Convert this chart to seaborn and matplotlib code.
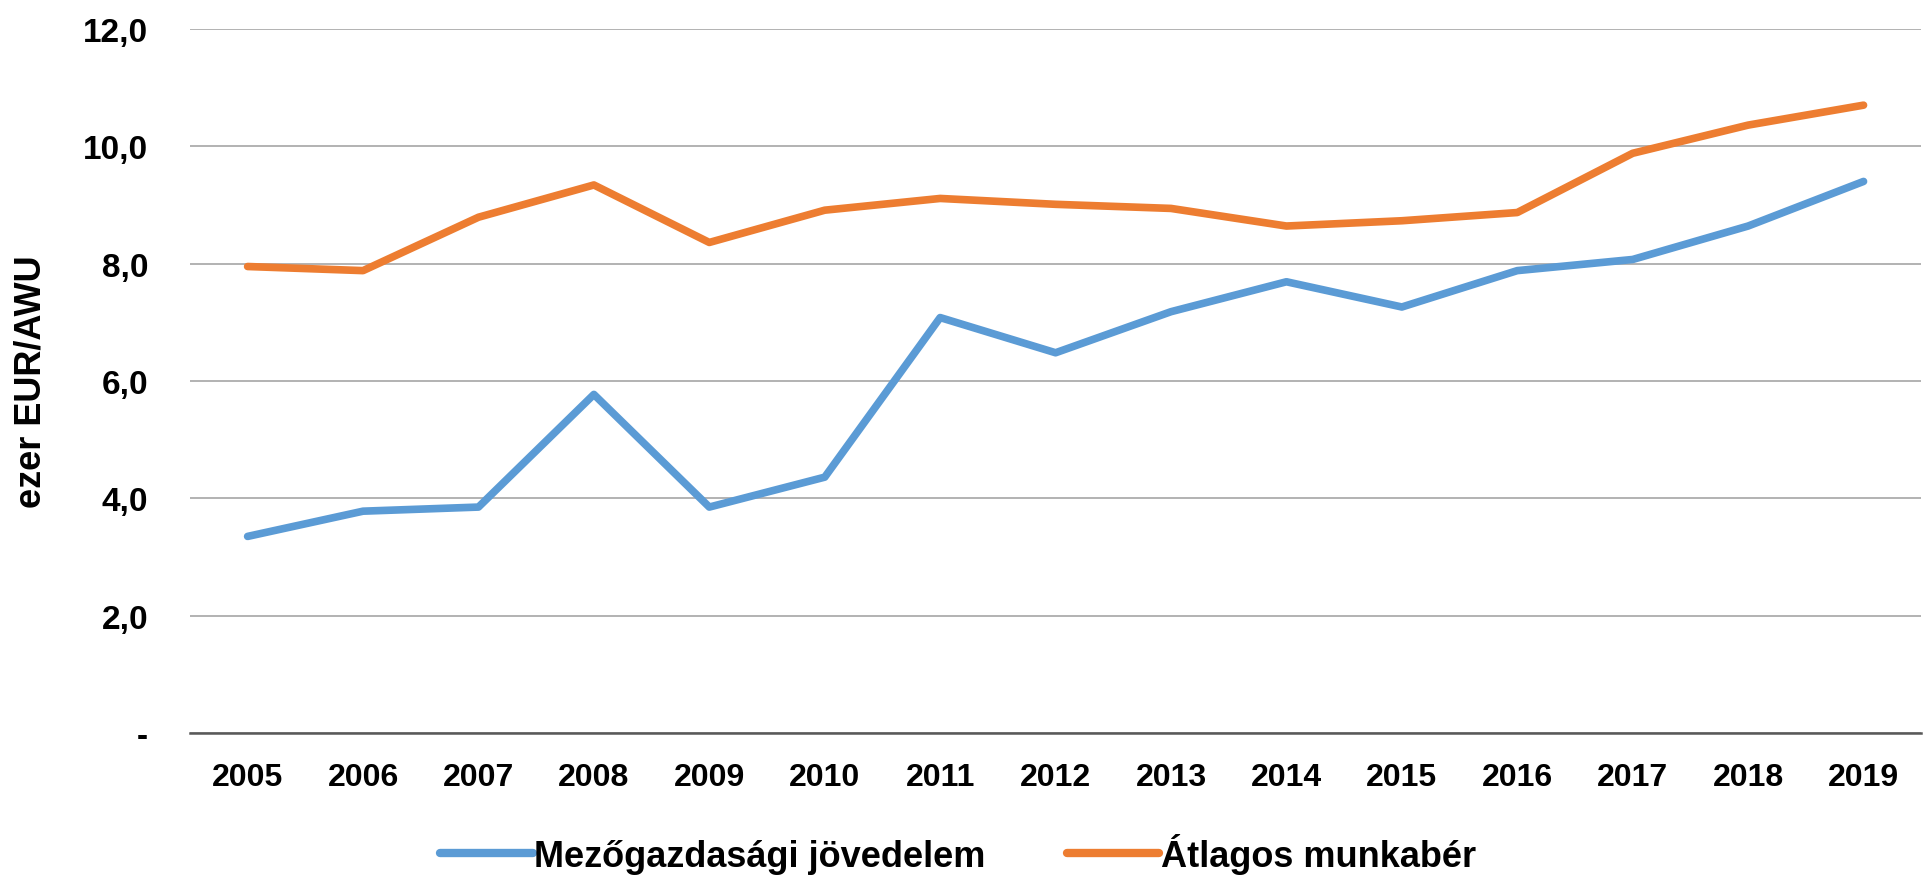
import numpy as np
import pandas as pd
import seaborn as sns
from matplotlib import pyplot as plt
from matplotlib.ticker import FixedLocator, FuncFormatter

years = list(range(2005, 2020))
mezogazdasagi = [3.35, 3.78, 3.85, 5.77, 3.85, 4.36, 7.08, 6.48, 7.18, 7.69, 7.26, 7.88, 8.07, 8.64, 9.40]
atlagos = [7.95, 7.88, 8.79, 9.34, 8.36, 8.91, 9.11, 9.01, 8.94, 8.64, 8.73, 8.87, 9.88, 10.36, 10.70]
series_names = ['Mezőgazdasági jövedelem', 'Átlagos munkabér']
y_ticks = [0, 2, 4, 6, 8, 10, 12]

df = pd.DataFrame({
    'ev': years * 2,
    'ertek': mezogazdasagi + atlagos,
    'sorozat': [series_names[0]] * len(years) + [series_names[1]] * len(years),
})

sns.set_style('white')
plt.rcParams['font.family'] = ['Liberation Sans', 'DejaVu Sans']
plt.rcParams['font.weight'] = 'bold'
plt.rcParams['text.color'] = 'black'
plt.rcParams['xtick.color'] = 'black'
plt.rcParams['ytick.color'] = 'black'
plt.rcParams['axes.labelcolor'] = 'black'

fig = plt.figure(figsize=(19.28, 8.79), dpi=100)
ax = fig.add_axes([0.0985, 0.165, 0.898, 0.801])

sns.lineplot(data=df, x='ev', y='ertek', hue='sorozat', hue_order=series_names,
             palette=['#5B9BD5', '#ED7D31'], linewidth=5.5, ax=ax, legend=False)

ax.set_xlim(years[0] - 0.5, years[-1] + 0.5)
ax.set_ylim(0, 12)
ax.xaxis.set_major_locator(FixedLocator(years))
ax.yaxis.set_major_locator(FixedLocator(y_ticks))
ax.yaxis.set_major_formatter(FuncFormatter(lambda v, p: '-' if v == 0 else f'{v:.1f}'.replace('.', ',')))
ax.yaxis.grid(True, color='#A6A6A6', linewidth=1.2)
ax.set_axisbelow(True)
for s in ['top', 'right', 'left']:
    ax.spines[s].set_visible(False)
ax.spines['bottom'].set_color('#595959')
ax.spines['bottom'].set_linewidth(1.8)
ax.tick_params(axis='x', length=0, labelsize=23, pad=21)
ax.tick_params(axis='y', length=0, labelsize=24, pad=30)
ax.set_xlabel('')
ax.set_ylabel('ezer EUR/AWU', fontsize=26, fontweight='bold', labelpad=25)

handles = [plt.Line2D([], [], color=c, linewidth=6) for c in ['#5B9BD5', '#ED7D31']]
fig.legend(handles, series_names, loc='lower center', bbox_to_anchor=(0.497, -0.032), ncol=2,
           frameon=False, fontsize=26, handlelength=2.55, handletextpad=0.05, columnspacing=2.25)

fig.savefig('out.png', dpi=100)
